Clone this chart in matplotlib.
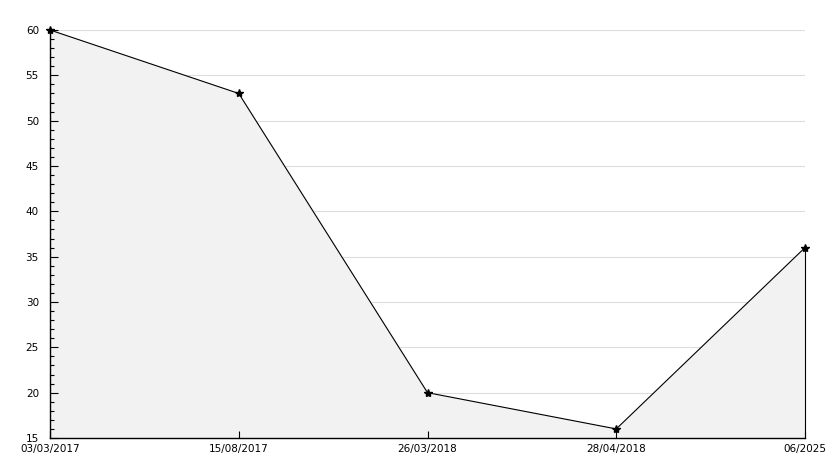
import numpy as np
from matplotlib import pyplot as plt
from matplotlib.ticker import MultipleLocator

# Dati del grafico
labels = ['03/03/2017', '15/08/2017', '26/03/2018', '28/04/2018', '06/2025']
values = [60, 53, 20, 16, 36]
yticks = [15, 20, 25, 30, 35, 40, 45, 50, 55, 60]

x = np.arange(len(labels))

fig = plt.figure(figsize=(8.34, 4.68), dpi=100)
ax = fig.add_axes([50 / 834, 30 / 468, 755 / 834, 408 / 468])

# Griglia orizzontale sotto l'area riempita
for t in yticks[1:]:
    ax.axhline(t, color='#dddddd', linewidth=0.8, zorder=0)

ax.fill_between(x, values, 15, color='#f2f2f2', zorder=1)
ax.plot(x, values, color='black', linewidth=0.8, zorder=3)
ax.plot(x, values, linestyle='none', marker='*', markersize=6,
        color='black', zorder=4, clip_on=False)
# Bordo destro dell'area riempita
ax.plot([x[-1], x[-1]], [15, values[-1]], color='black', linewidth=0.8,
        zorder=3, clip_on=False)

ax.set_xlim(0, len(labels) - 1)
ax.set_ylim(15, 60)
ax.set_xticks(x)
ax.set_xticklabels(labels, fontsize=7.5)
ax.set_yticks(yticks)
ax.yaxis.set_minor_locator(MultipleLocator(1))
for lbl in ax.get_yticklabels():
    lbl.set_fontsize(7.5)

ax.tick_params(axis='y', which='major', direction='in', length=6, width=0.8, pad=8)
ax.tick_params(axis='y', which='minor', direction='in', length=3, width=0.8)
ax.tick_params(axis='x', which='major', direction='in', length=5, width=0.8, pad=4)

for side in ['top', 'right']:
    ax.spines[side].set_visible(False)
for side in ['left', 'bottom']:
    ax.spines[side].set_linewidth(1.0)

fig.savefig('out.png', dpi=100)
